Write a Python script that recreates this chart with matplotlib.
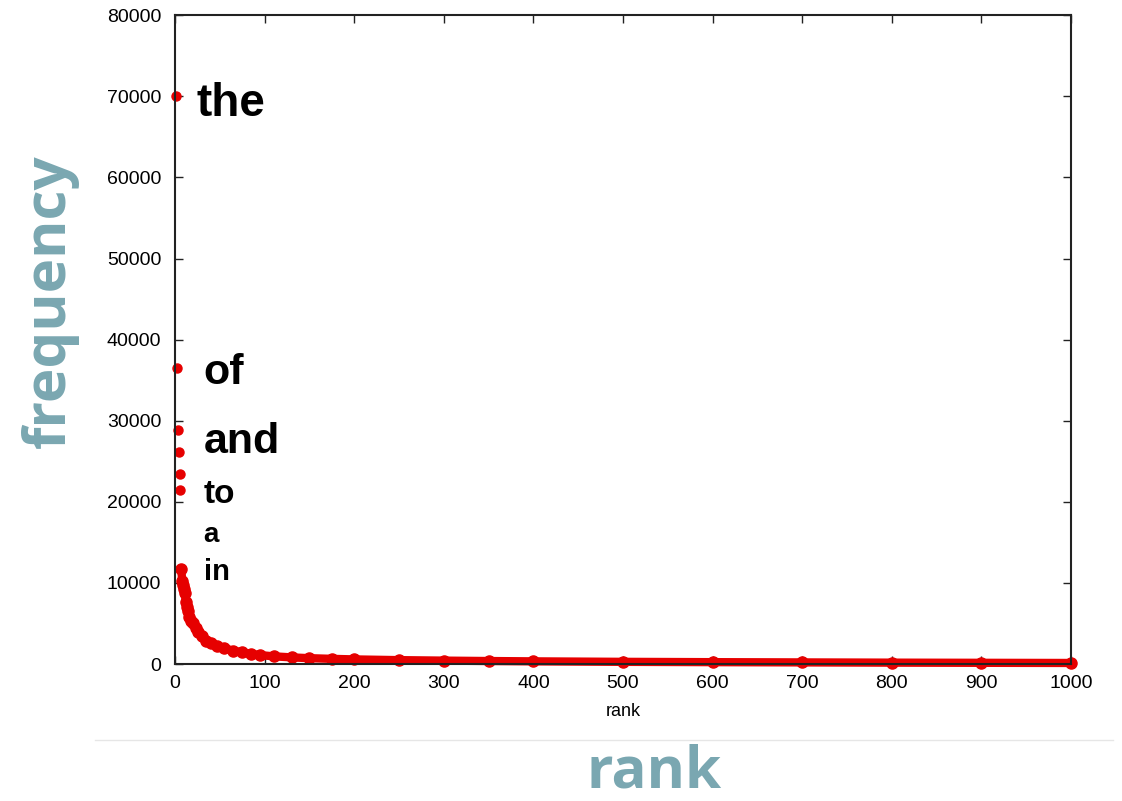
import matplotlib
matplotlib.use("Agg")
import matplotlib.pyplot as plt
from matplotlib.lines import Line2D

# rank / frequency
ranks = [1, 2, 3, 4, 5, 6,
         7, 8, 9, 10, 11, 12, 13, 14, 16, 18, 20, 23, 26, 30, 35, 40, 47, 55,
         65, 75, 85, 95, 110, 130, 150, 175, 200, 250, 300, 350, 400, 500,
         600, 700, 800, 900, 1000]
freqs = [70000, 36500, 28900, 26200, 23400, 21400,
         11700, 10200, 9800, 9200, 8700, 7600, 7000, 6600, 5800, 5300, 5000,
         4400, 3900, 3400, 2900, 2600, 2200, 1950, 1650, 1450, 1250, 1100,
         950, 820, 720, 640, 570, 480, 420, 370, 330, 270, 230, 200, 170,
         150, 130]
n_head = 6

words = ["the", "of", "and", "to", "a", "in"]
word_y = [69000, 35900, 27400, 20900, 15900, 11400]
word_size = [33, 31, 31, 24, 20, 21]

x_ticks = [0, 100, 200, 300, 400, 500, 600, 700, 800, 900, 1000]
y_ticks = [0, 10000, 20000, 30000, 40000, 50000, 60000, 70000, 80000]

red = "#e60000"
teal = "#7aa7b1"

fig = plt.figure(figsize=(11.22, 8.01), dpi=100)
ax = fig.add_axes([0.156, 0.171, 0.7985, 0.81])

ax.plot(ranks[:n_head], freqs[:n_head], "o", color=red, markersize=6.5,
        clip_on=False, zorder=2)
ax.plot(ranks[n_head:], freqs[n_head:], "-o", color=red, markersize=8,
        linewidth=6, solid_capstyle="round", clip_on=False, zorder=2)

for w, y, s in zip(words, word_y, word_size):
    ax.text(24 if w == "the" else 32, y, w, fontsize=s, fontweight="bold",
            family="Liberation Sans", va="center", ha="left")

ax.set_xlim(0, 1000)
ax.set_ylim(0, 80000)
ax.set_xticks(x_ticks)
ax.set_yticks(y_ticks)
ax.tick_params(direction="in", length=6, width=1, top=True, right=True,
               labelsize=14, color="#222222")
ax.tick_params(axis="y", pad=10)
ax.tick_params(axis="x", pad=8)
for lab in ax.get_xticklabels() + ax.get_yticklabels():
    lab.set_family("Liberation Sans")
for sp in ax.spines.values():
    sp.set_linewidth(1.5)
    sp.set_color("#222222")
    sp.set_zorder(3)

ax.set_xlabel("rank", fontsize=13, family="Liberation Sans", labelpad=8)

# slide overlay: big titles and divider
fig.add_artist(Line2D([95 / 1122, 1113 / 1122], [1 - 740 / 801, 1 - 740 / 801],
                      color="#e6e6e6", linewidth=1))
fig.text(654 / 1122, 1 - 788 / 801, "rank", fontsize=42, fontweight="bold",
         family="Open Sans", color=teal, ha="center", va="baseline")
fig.text(50 / 1122, 1 - 301 / 801, "frequency", fontsize=42, fontweight="bold",
         family="Open Sans", color=teal, ha="center", va="center", rotation=90)

fig.savefig("out.png", dpi=100)
